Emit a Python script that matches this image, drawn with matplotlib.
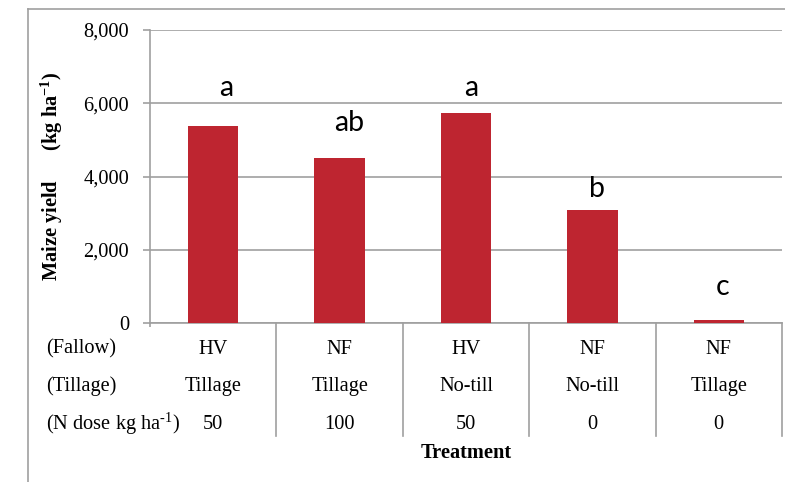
import matplotlib
matplotlib.use("Agg")
import matplotlib.pyplot as plt
from matplotlib.lines import Line2D
from matplotlib.transforms import blended_transform_factory

# ---- data ----
fallow = ["HV", "NF", "HV", "NF", "NF"]
tillage = ["Tillage", "Tillage", "No-till", "No-till", "Tillage"]
n_dose = ["50", "100", "50", "0", "0"]
yield_vals = [5370, 4500, 5730, 3090, 100]
letters = ["a", "ab", "a", "b", "c"]
yticks = [0, 2000, 4000, 6000, 8000]
row_labels = ["(Fallow)", "(Tillage)", r"(N dose kg ha$^{\text{-1}}$)"]

plt.rcParams['mathtext.fontset'] = 'custom'
plt.rcParams['mathtext.rm'] = 'Liberation Serif'
plt.rcParams['mathtext.bf'] = 'Liberation Serif:bold'
plt.rcParams['font.family'] = ['Liberation Serif', 'DejaVu Serif']

W, H = 785, 482
fig = plt.figure(figsize=(W / 100, H / 100), dpi=100)
L, R, B, T = 150, 782, 323.3, 30
ax = fig.add_axes([L / W, 1 - B / H, (R - L) / W, (B - T) / H])

gray = "#9f9f9f"
bar_color = "#BE2530"
tfs = 14.7

x = list(range(len(yield_vals)))
ax.bar(x, yield_vals, width=0.4, color=bar_color, zorder=3)
ax.set_xlim(-0.5, len(yield_vals) - 0.5)
ax.set_ylim(0, 8000)
ax.set_yticks(yticks)
ax.set_yticklabels([f"{v:,}" for v in yticks], fontsize=tfs)
ax.yaxis.grid(True, color=gray, linewidth=1.2, zorder=0)
ax.set_axisbelow(True)
for s in ["top", "right"]:
    ax.spines[s].set_visible(False)
ax.spines["left"].set_color(gray)
ax.spines["bottom"].set_color(gray)
ax.spines["left"].set_linewidth(1.2)
ax.spines["bottom"].set_linewidth(1.2)
ax.tick_params(axis="y", length=5, color=gray, width=1.2, pad=10)
ax.set_xticks([-0.5])
ax.set_xticklabels([""])
ax.tick_params(axis="x", length=3, color=gray, width=1.2)

# letter annotations
dxs = [13, 10, 5, 5, 4]
dys = [30.7, 27.6, 17.3, 13.3, 25]
for i, (v, lt) in enumerate(zip(yield_vals, letters)):
    ax.annotate(lt, xy=(i, v), xytext=(dxs[i], dys[i]), textcoords="offset pixels",
                ha="center", va="baseline", fontsize=20.5, family=["Lato", "DejaVu Sans"])

# y label
ax.set_ylabel(r"Maize yield      (kg ha$^{\mathbf{-1}}$)", fontsize=tfs,
              fontweight="bold")
ax.yaxis.set_label_coords((65 - L) / (R - L), 0.5)

# table below axis
def ay(py):
    return (B - py) / (B - T)

tr = blended_transform_factory(ax.transData, ax.transAxes)
row_y = [349, 386, 424]
for i in range(len(yield_vals)):
    for r, vals in enumerate([fallow, tillage, n_dose]):
        ax.text(i, ay(row_y[r]), vals[i], transform=tr, ha="center", va="center",
                fontsize=tfs)
for b in [0.5, 1.5, 2.5, 3.5, 4.5]:
    ax.plot([b, b], [0, ay(436)], transform=tr, color=gray, lw=1.2, clip_on=False)

ftr = blended_transform_factory(fig.transFigure, ax.transAxes)
for r, lab in enumerate(row_labels):
    ax.text(45.7 / W, ay(row_y[r]), lab, transform=ftr, ha="left", va="center",
            fontsize=tfs)

ax.text(0.5, ay(452.7), "Treatment", transform=ax.transAxes, ha="center",
        va="center", fontsize=tfs, fontweight="bold")

# outer border
fig.add_artist(Line2D([28 / W, 28 / W], [0, 1 - 9 / H], transform=fig.transFigure,
                      color=gray, lw=1.2))
fig.add_artist(Line2D([28 / W, 1], [1 - 9 / H, 1 - 9 / H], transform=fig.transFigure,
                      color=gray, lw=1.2))

fig.savefig("out.png", dpi=100)
